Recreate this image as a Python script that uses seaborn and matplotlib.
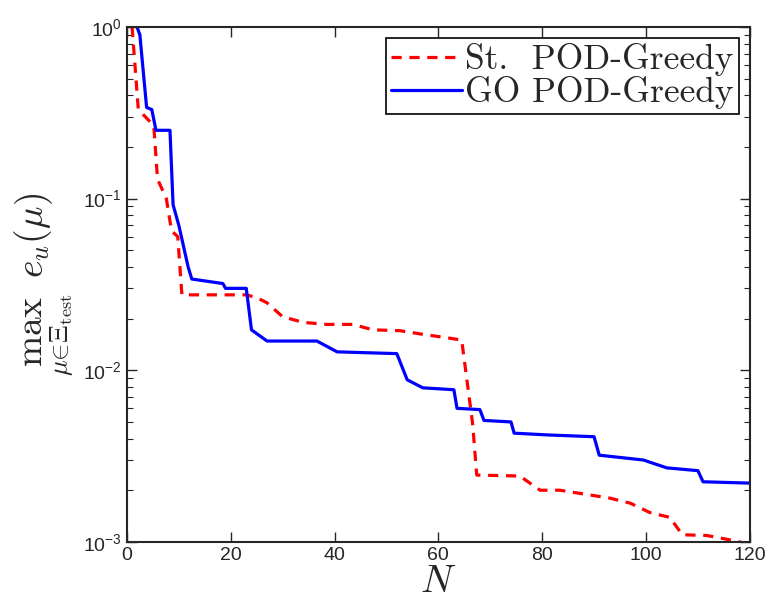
import matplotlib
matplotlib.use("Agg")
import matplotlib.pyplot as plt
import seaborn as sns
import pandas as pd
import numpy as np

# GO POD-Greedy (solid blue)
go_N = [1, 2.5, 3.8, 4.8, 5.6, 8.3, 8.9, 10, 11.8, 12.5, 18.5, 19, 23, 24, 27, 36.6,
        40.5, 52, 54, 57, 63, 63.6, 68, 68.8, 74, 74.6, 81, 90, 91, 99.5, 104, 110, 111, 120]
go_err = [1.2, 0.9, 0.34, 0.33, 0.25, 0.25, 0.092, 0.07, 0.04, 0.034, 0.032, 0.030, 0.030,
          0.0172, 0.0148, 0.0148, 0.0128, 0.0125, 0.0088, 0.0079, 0.0077, 0.0060, 0.0059,
          0.0051, 0.0050, 0.0043, 0.0042, 0.0041, 0.0032, 0.0030, 0.0027, 0.0026, 0.00224, 0.0022]

# St. POD-Greedy (dashed red)
st_N = [1, 2.2, 4.5, 5.2, 5.9, 7.6, 8.6, 9.8, 10.6, 23, 25, 27, 30, 34, 38.5, 43.5, 47.4,
        52.6, 57, 62, 64.5, 66.6, 67.4, 75.7, 79.6, 83.4, 93, 97, 100.8, 104.6, 107, 111.7, 116, 120]
st_err = [1.0, 0.33, 0.28, 0.26, 0.13, 0.10, 0.065, 0.06, 0.0275, 0.0275, 0.0265, 0.0247,
          0.0205, 0.019, 0.0185, 0.0185, 0.0172, 0.017, 0.0162, 0.0154, 0.015, 0.0049,
          0.00245, 0.00242, 0.0020, 0.0020, 0.0018, 0.00168, 0.00148, 0.00139, 0.0011,
          0.00109, 0.00103, 0.00097]

x_ticks = [0, 20, 40, 60, 80, 100, 120]

sns.set_style("ticks")
plt.rcParams["font.family"] = ["Liberation Sans", "DejaVu Sans"]
plt.rcParams["mathtext.fontset"] = "cm"

fig = plt.figure(figsize=(7.69, 6.13), dpi=100)
ax = fig.add_axes([0.165, 0.116, 0.81, 0.84])

st_df = pd.DataFrame({"N": st_N, "err": st_err})
go_df = pd.DataFrame({"N": go_N, "err": go_err})

sns.lineplot(data=st_df, x="N", y="err", ax=ax, color="#ff0000", lw=2.3,
             estimator=None, sort=False, label="St.  POD-Greedy")
sns.lineplot(data=go_df, x="N", y="err", ax=ax, color="#0000ff", lw=2.3,
             estimator=None, sort=False, label="GO POD-Greedy")
ax.lines[0].set_dashes([3.2, 2.4])

ax.set_yscale("log")
ax.set_xlim(0, 120)
ax.set_ylim(1e-3, 1)
ax.set_xticks(x_ticks)

ax.tick_params(which="both", direction="in", top=True, right=True, labelsize=14)
ax.tick_params(which="major", length=7, width=1)
ax.tick_params(which="minor", length=4, width=0.8)
for s in ax.spines.values():
    s.set_linewidth(1.5)

ax.set_xlabel(r"$N$", fontsize=28, labelpad=0)
ax.set_ylabel(r"$\max_{\mu\in\Xi_{\mathrm{test}}}\ e_u(\mu)$", fontsize=27, labelpad=6)

leg = ax.legend(loc="upper right", prop={"family": "cmr10", "size": 25.5},
                frameon=True, fancybox=False, framealpha=1, edgecolor="black",
                handlelength=2.0, handletextpad=0.1, borderpad=0.15,
                labelspacing=0.0, borderaxespad=0.3)
leg.get_frame().set_linewidth(1.2)

fig.savefig("out.png", dpi=100)
